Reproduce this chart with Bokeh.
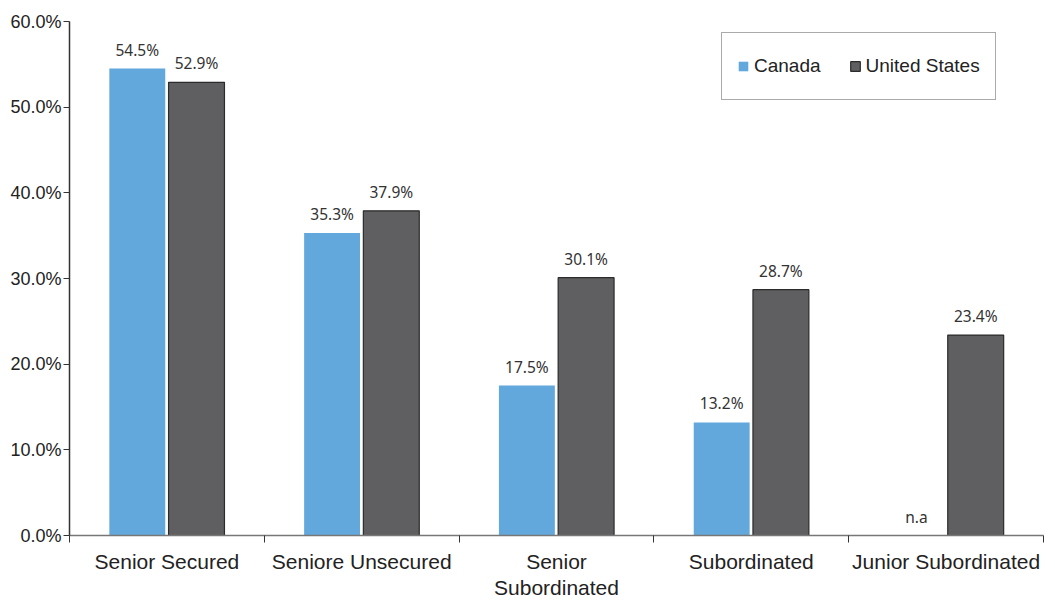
from bokeh.plotting import figure
from bokeh.models import (ColumnDataSource, Range1d, FixedTicker, LinearAxis,
                          PrintfTickFormatter, Legend, LegendItem)
from bokeh.core.properties import value
from bokeh.embed import file_html
from bokeh.resources import INLINE
import numpy as np

categories = ["Senior Secured", "Seniore Unsecured", "Senior\nSubordinated",
              "Subordinated", "Junior Subordinated"]
canada = [54.5, 35.3, 17.5, 13.2, None]
united_states = [52.9, 37.9, 30.1, 28.7, 23.4]
y_ticks = [0, 10, 20, 30, 40, 50, 60]

CAN_COLOR = "#63a8dc"
US_COLOR = "#5f5f61"
FONT = "Liberation Sans"
LABEL_FONT = "Noto Sans"

idx = np.arange(len(categories)) + 0.5
off = 0.152
bw = 0.287

can_src = ColumnDataSource(dict(
    x=idx - off, top=[v if v is not None else 0 for v in canada],
    lab=[f"{v:.1f}%" if v is not None else "n.a" for v in canada],
    ly=[v if v is not None else 0 for v in canada]))
us_src = ColumnDataSource(dict(
    x=idx + off, top=united_states,
    lab=[f"{v:.1f}%" for v in united_states],
    ly=united_states))

p = figure(width=1055, height=601, output_backend="svg", toolbar_location=None,
           x_range=Range1d(0, len(categories)), y_range=Range1d(0, 60),
           x_axis_type=None, y_axis_type=None,
           min_border_left=69, min_border_right=12, min_border_top=21,
           min_border_bottom=66)
p.outline_line_color = None
p.xgrid.visible = False
p.ygrid.visible = False

r_can = p.vbar(x="x", top="top", width=bw, source=can_src, fill_color=CAN_COLOR,
               line_color=None)
r_us = p.vbar(x="x", top="top", width=bw, source=us_src, fill_color=US_COLOR,
              line_color="#2b2b2b", line_width=1.2)

for src in (can_src, us_src):
    p.text(x="x", y="ly", text="lab", source=src, text_align="center",
           text_baseline="bottom", y_offset=-8, text_font=value(LABEL_FONT),
           text_font_size="15.5px", text_color="#333333")

yaxis = LinearAxis(ticker=FixedTicker(ticks=y_ticks),
                   formatter=PrintfTickFormatter(format="%.1f%%"))
yaxis.axis_line_color = "#333333"
yaxis.axis_line_width = 1.5
yaxis.major_tick_line_color = "#333333"
yaxis.major_tick_out = 6
yaxis.major_tick_in = 0
yaxis.minor_tick_line_color = None
yaxis.major_label_standoff = 2
yaxis.major_label_text_font = FONT
yaxis.major_label_text_font_size = "18px"
yaxis.major_label_text_color = "#222222"
p.add_layout(yaxis, "left")

xaxis = LinearAxis(ticker=FixedTicker(ticks=list(idx),
                                      minor_ticks=list(range(len(categories) + 1))))
xaxis.major_label_overrides = {float(x): c for x, c in zip(idx, categories)}
xaxis.axis_line_color = "#777777"
xaxis.axis_line_width = 1.5
xaxis.major_tick_line_color = None
xaxis.minor_tick_line_color = "#333333"
xaxis.minor_tick_out = 7
xaxis.minor_tick_in = 0
xaxis.major_label_standoff = 7
xaxis.major_label_text_font = FONT
xaxis.major_label_text_font_size = "21px"
xaxis.major_label_text_color = "#222222"
xaxis.major_label_text_line_height = 1.15
p.add_layout(xaxis, "below")

legend = Legend(items=[LegendItem(label="Canada", renderers=[r_can]),
                       LegendItem(label="United States", renderers=[r_us])],
                orientation="horizontal", location=(652, 435))
legend.border_line_color = "#555555"
legend.border_line_width = 1
legend.padding = 15
legend.margin = 0
legend.spacing = 28
legend.label_height = 36
legend.glyph_height = 12
legend.glyph_width = 12
legend.label_standoff = 5
legend.label_text_font = FONT
legend.label_text_font_size = "19px"
legend.label_text_color = "#222222"
legend.background_fill_alpha = 1
p.add_layout(legend, "center")

open("out.html", "w").write(file_html(p, INLINE))
